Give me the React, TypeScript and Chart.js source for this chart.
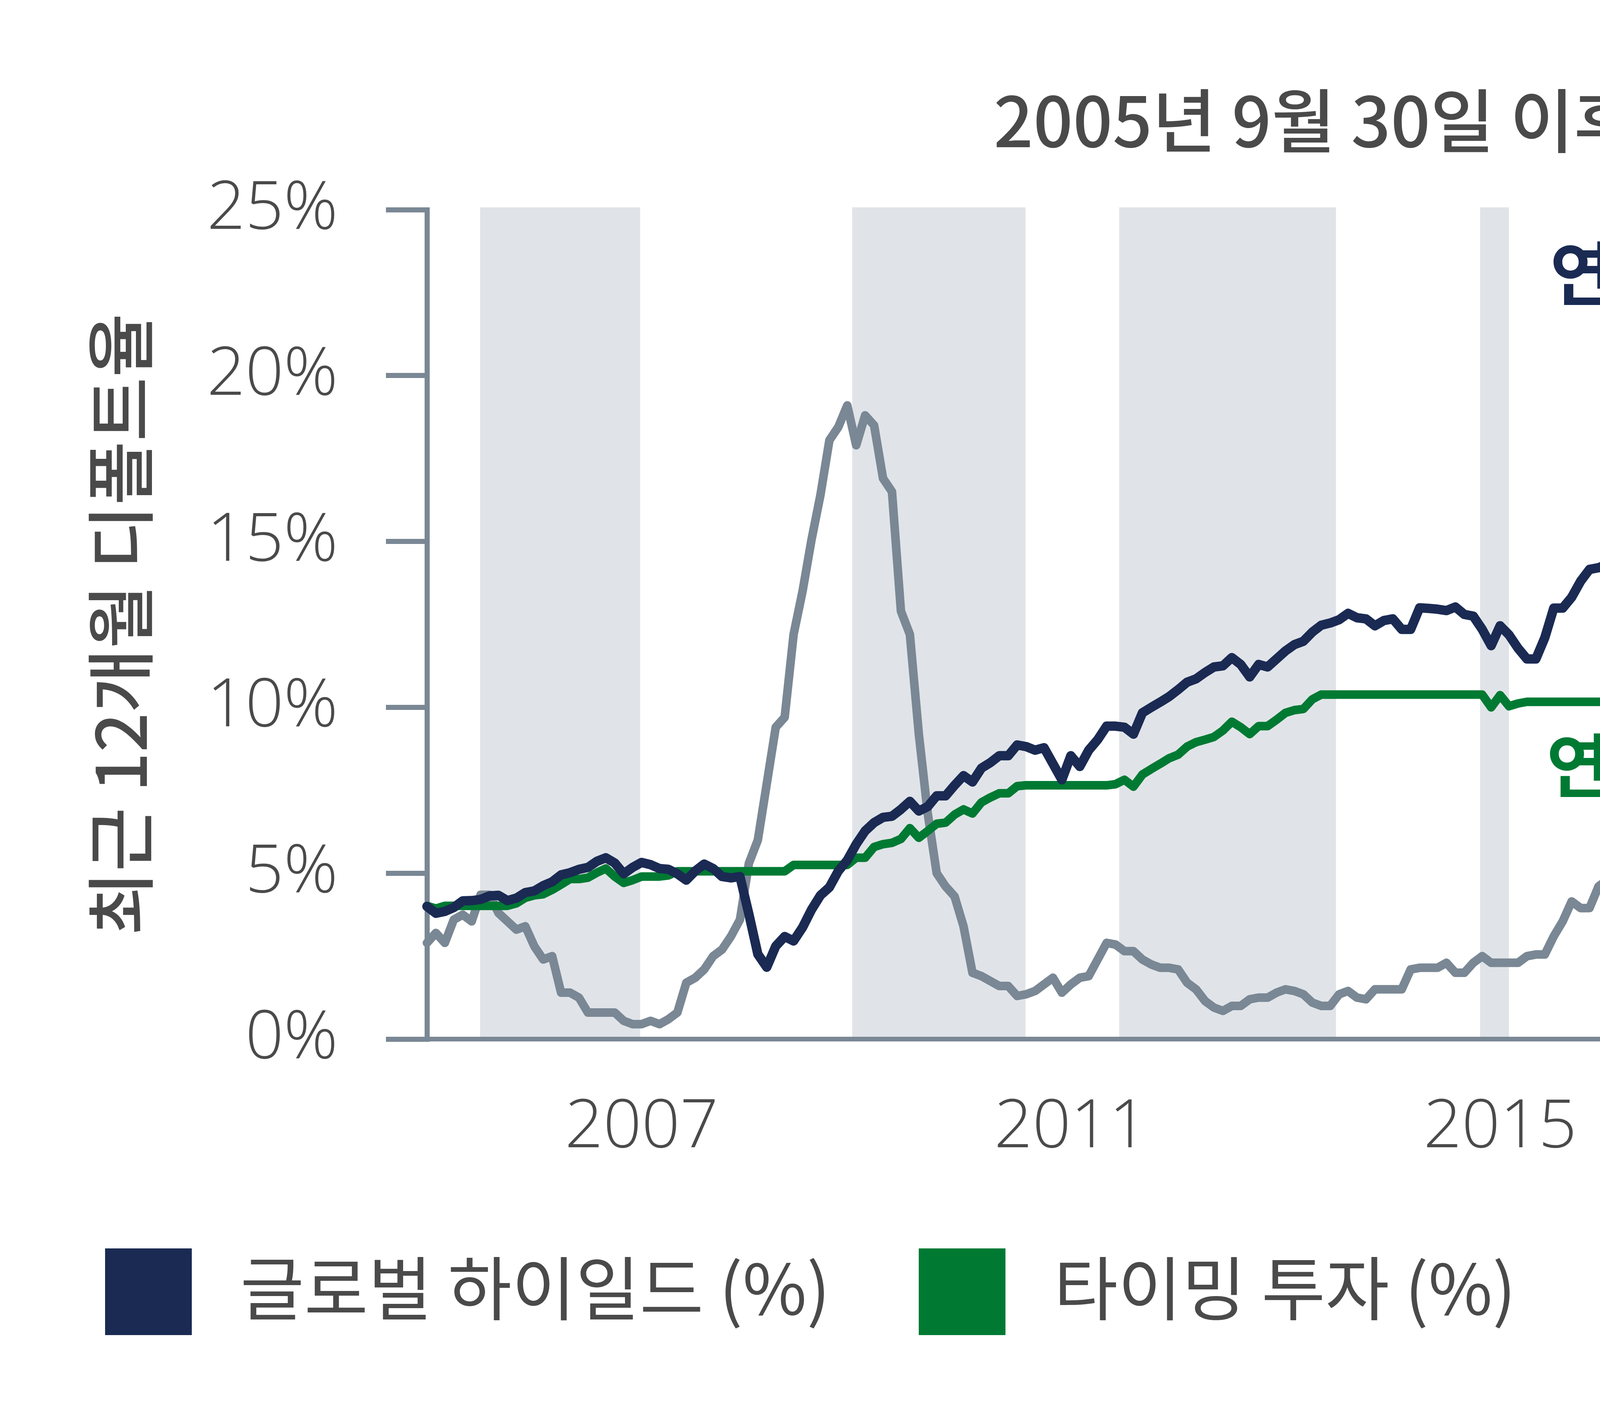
import React, { useEffect, useRef } from 'react';
import { Chart, registerables } from 'chart.js';

Chart.register(...registerables);

const W = 7472;
const H = 3639;

const FONT = "'Noto Sans CJK KR', 'Noto Sans', sans-serif";
const TICK_FONT = "'Open Sans', 'Noto Sans CJK KR', sans-serif";
const NAVY = '#1a2a53';
const GREEN = '#007a33';
const GRAY = '#7a8794';
const AXIS = '#7a8794';
const BAND = '#e0e4e8';
const TEXT = '#4a4a4a';

const chartTitle = '2005년 9월 30일 이후 총 수익률';
const leftAxisTitle = '최근 12개월 디폴트율';
const rightAxisTitle = '누적 수익률';

// monthly categories, Sep 2005 .. Jul 2024
const months: string[] = Array.from({ length: 227 }, (_, i) => {
  const t = 8 + i;
  return `${2005 + Math.floor(t / 12)}-${String((t % 12) + 1).padStart(2, '0')}`;
});
const xTickIndices = [24, 72, 120, 168, 216];
const xTickLabels = ['2007', '2011', '2015', '2019', '2023'];

const seriesLabels = ['글로벌 하이일드 (%)', '타이밍 투자 (%)', '최근 12개월 하이일드 디폴트율 (%)'];

// cumulative total return, global high yield (%)
const globalHighYield = [
  -2, -4.5, -3.8, -2.4, 0, 0.1, 0.5, 1.8, 2, 0.1,
  1, 3, 3.6, 5.5, 6.9, 9.4, 10.2, 11.4, 12.1, 14.3,
  15.6, 13.7, 9.8, 12.1, 13.9, 13.1, 11.7, 11.4, 9.8, 7.5,
  10.8, 13.3, 11.7, 8.8, 8.3, 8.8, -4.8, -19.3, -24, -16.4,
  -12.9, -14.5, -9.6, -3.2, 2, 4.9, 10.8, 14.7, 20.5, 25.3,
  28.3, 30.2, 30.6, 33.1, 36, 32.5, 34.1, 38, 38, 41.8,
  45.3, 43, 48, 50, 52.5, 52.5, 56.4, 55.8, 54.5, 55.4,
  49.6, 43.8, 52.5, 48.6, 54.5, 58.3, 63.2, 63.2, 62.8, 60.3,
  68, 70, 71.9, 73.9, 76.4, 79.1, 80.3, 82.6, 84.6, 85,
  88, 85.5, 81, 85.5, 84.6, 87.5, 90.4, 92.7, 93.9, 97.2,
  99.7, 100.5, 101.7, 104, 102.4, 102, 99.5, 101.4, 102, 98.2,
  98.2, 106, 105.8, 105.5, 105, 106.3, 103.6, 103, 98.2, 92.3, 99.5,
  96.2, 91.4, 87.5, 87.5, 95.2, 105.9, 105.9, 109.8, 115.6, 119.9,
  120.5, 121.8, 119.5, 123.4, 125.7, 128.8, 129.6, 131.6, 134.1, 135,
  137, 138.3, 139.9, 139.9, 139.9, 140.3, 140.9, 138, 138, 139.9,
  139.9, 142.8, 144.8, 146.7, 146.7, 139.9, 136, 141.8, 145.7, 149.2,
  154.5, 152.5, 155.4, 159.9, 160.7, 161.8, 162.6, 163.8, 166.5, 169,
  166.5, 132, 138, 145.7, 154.5, 156.8, 170, 166, 166, 173.9,
  182.6, 185, 185.9, 187.9, 189, 192.3, 194.9, 195.2, 197.6, 197.6,
  196.2, 192.3, 198.7, 190.4, 186.9, 181.7, 177.2, 175.8, 156.4, 172,
  162, 160, 165.1, 167.7, 167.1, 175.4, 174.3, 176.8, 177.8, 179.3,
  183.6, 186.5, 186.1, 180.7, 187.9, 202.6, 203, 204.4, 207.9, 207.3,
  206.5, 210.4, 213.7, 220.1, 222.8, 228.6,
];

// cumulative total return, timing strategy (%)
const timingStrategy = [
  -1.8, -2.8, -1.8, -1.8, -1.8, -1.8, -1.8, -1.8, -1.8, -1.8,
  -0.9, 1.1, 2, 2.4, 4, 5.9, 7.9, 7.9, 8.4, 10.2,
  11.7, 8.8, 6.5, 7.5, 8.8, 8.8, 8.8, 9.2, 10.7, 10.7,
  10.7, 10.7, 10.7, 10.7, 10.7, 10.7, 10.7, 10.7, 10.7, 10.7,
  10.7, 13, 13, 13, 13, 13, 13, 13, 15.6, 15.6,
  19.5, 20.5, 21, 22.4, 26.3, 22.8, 25.3, 27.9, 28.3, 31.2,
  33.1, 31.6, 35.6, 37.4, 38.9, 38.9, 41.5, 41.8, 41.8, 41.8,
  41.8, 41.8, 41.8, 41.8, 41.8, 41.8, 41.8, 42.2, 43.8, 41.3,
  45.7, 47.7, 49.6, 51.6, 52.9, 55.8, 57.4, 58.3, 59.3, 61.6,
  64.8, 62.8, 60.3, 63.2, 63.2, 65.5, 68, 69, 69.4, 72.9,
  74.6, 74.6, 74.6, 74.6, 74.6, 74.6, 74.6, 74.6, 74.6, 74.6,
  74.6, 74.6, 74.6, 74.6, 74.6, 74.6, 74.6, 74.6, 74.6, 70, 74.4,
  70.4, 71.4, 72, 72, 72, 72, 72, 72, 72, 72,
  72, 72, 74.4, 76.8, 78.7, 80.3, 80.7, 82.6, 84.2, 85,
  86.1, 87.5, 88.4, 90.4, 90.4, 90.4, 90.4, 90.4, 90.4, 90.4,
  90.4, 91.9, 94.3, 95.2, 95.5, 89.4, 86.5, 91.4, 95.2, 98.2,
  100.1, 102, 102, 102, 102, 102, 103.3, 103.3, 103.3, 103.3,
  103.3, 105.4, 105.9, 105.9, 105.9, 105.9, 105.9, 105.9, 105.9, 105.9,
  108.4, 109.8, 110.8, 110.8, 112.1, 113.3, 115.6, 117, 119.1, 119.1,
  116.6, 114.7, 114.7, 114.7, 114.7, 114.7, 114.7, 114.7, 117.2, 117.2,
  117.2, 117.2, 117.2, 118.7, 117.6, 123, 123.4, 124.9, 125.9, 125.3,
  128.3, 132.1, 132.1, 128.8, 133.1, 140.9, 145.7, 146.7, 148.2, 148.6,
  149.6, 152.1, 153.8, 158.7, 161.3, 166.7,
];

// trailing 12-month high yield default rate (%)
const defaultRate = [
  2.9, 3.2, 2.9, 3.6, 3.75, 3.55, 4.35, 4.35, 3.8, 3.55,
  3.3, 3.4, 2.8, 2.4, 2.5, 1.4, 1.4, 1.25, 0.8, 0.8,
  0.8, 0.8, 0.55, 0.45, 0.45, 0.55, 0.45, 0.6, 0.8, 1.7,
  1.85, 2.1, 2.5, 2.7, 3.1, 3.6, 5.3, 6.0, 7.7, 9.4,
  9.7, 12.2, 13.5, 15.05, 16.4, 18.05, 18.45, 19.1, 17.9, 18.8,
  18.5, 16.9, 16.5, 12.9, 12.2, 9.2, 6.8, 5.0, 4.6, 4.3,
  3.4, 2.0, 1.9, 1.75, 1.6, 1.6, 1.3, 1.35, 1.45, 1.65,
  1.85, 1.4, 1.65, 1.85, 1.9, 2.4, 2.9, 2.85, 2.65, 2.65,
  2.4, 2.25, 2.15, 2.15, 2.1, 1.7, 1.5, 1.15, 0.95, 0.85,
  1.0, 1.0, 1.2, 1.25, 1.25, 1.4, 1.5, 1.45, 1.35, 1.1,
  1.0, 1.0, 1.35, 1.45, 1.25, 1.2, 1.5, 1.5, 1.5, 1.5,
  2.1, 2.15, 2.15, 2.15, 2.3, 2.0, 2.0, 2.3, 2.5, 2.3, 2.3,
  2.3, 2.3, 2.5, 2.55, 2.55, 3.1, 3.55, 4.15, 3.95, 3.95,
  4.6, 4.8, 4.85, 4.85, 4.4, 4.25, 3.8, 3.15, 2.5, 2.5,
  2.55, 2.25, 1.65, 1.5, 2.0, 2.2, 2.15, 2.3, 2.9, 3.05,
  3.0, 2.8, 2.7, 2.6, 2.7, 2.3, 1.85, 1.5, 1.5, 0.95,
  0.95, 1.0, 1.45, 1.65, 1.85, 2.1, 2.25, 2.4, 2.55, 2.5,
  2.45, 2.9, 3.6, 4.65, 4.8, 5.0, 5.3, 5.5, 5.6, 5.8,
  5.65, 5.4, 5.25, 5.1, 4.35, 3.05, 2.55, 1.85, 1.2, 1.05,
  0.8, 0.6, 1.65, 1.65, 2.4, 2.9, 3.15, 3.2, 3.2, 3.55,
  4.0, 4.0, 4.25, 4.4, 3.6, 3.65, 3.35, 2.7, 2.5, 2.7,
  2.85, 2.7, 2.5, 2.85, 2.65, 2.5, 2.5, 2.5, 2.5, 2.5,
  2.65, 2.35, 2.1, 2.0, 1.85, 1.65,
];

// shaded periods (month index on the category axis)
const bandStart = [5.94, 47.55, 77.41, 117.76, 132.95, 149.63, 180.19, 203.82];
const bandEnd = [23.84, 66.93, 101.65, 120.99, 143.91, 160.63, 192.59, 226];

// annotations placed on (month index, right-axis value)
const annotationTexts = ['연간 총 수익률: 6.49%', '연간 총 수익률: 5.33%'];
const annotationX = [125.57, 125.18];
const annotationY = [226.9, 49.0];
const annotationColors = [NAVY, GREEN];

const bandsPlugin = {
  id: 'bands',
  beforeDraw(chart: any) {
    const { ctx, chartArea, scales } = chart;
    const x = scales.x;
    ctx.save();
    ctx.fillStyle = BAND;
    bandStart.forEach((s, i) => {
      const x0 = x.getPixelForValue(s);
      const x1 = x.getPixelForValue(bandEnd[i]);
      ctx.fillRect(x0, chartArea.top - 6, x1 - x0, chartArea.bottom - chartArea.top + 6);
    });
    ctx.restore();
  },
};

const annotationPlugin = {
  id: 'annotations',
  afterDatasetsDraw(chart: any) {
    const { ctx, scales } = chart;
    ctx.save();
    ctx.font = `700 178px ${FONT}`;
    ctx.textAlign = 'left';
    ctx.textBaseline = 'middle';
    annotationTexts.forEach((t, i) => {
      ctx.fillStyle = annotationColors[i];
      ctx.fillText(t, scales.x.getPixelForValue(annotationX[i]), scales.y1.getPixelForValue(annotationY[i]));
    });
    ctx.restore();
  },
};

export default function App() {
  const ref = useRef<HTMLCanvasElement>(null);

  useEffect(() => {
    document.body.style.margin = '0';
    const tickFont = { family: TICK_FONT, size: 172, weight: 300 as any };
    const titleFont = { family: FONT, size: 178, weight: 500 as any };
    const chart = new Chart(ref.current as HTMLCanvasElement, {
      type: 'line',
      data: {
        labels: months,
        datasets: [
          {
            label: seriesLabels[0],
            data: globalHighYield,
            yAxisID: 'y1',
            borderColor: NAVY,
            backgroundColor: NAVY,
            borderWidth: 24,
            pointRadius: 0,
            tension: 0,
            borderJoinStyle: 'round',
            borderCapStyle: 'round',
          },
          {
            label: seriesLabels[1],
            data: timingStrategy,
            yAxisID: 'y1',
            borderColor: GREEN,
            backgroundColor: GREEN,
            borderWidth: 22,
            pointRadius: 0,
            tension: 0,
            borderJoinStyle: 'round',
            borderCapStyle: 'round',
          },
          {
            label: seriesLabels[2],
            data: defaultRate,
            yAxisID: 'y',
            borderColor: GRAY,
            backgroundColor: GRAY,
            borderWidth: 22,
            pointRadius: 0,
            tension: 0,
            borderJoinStyle: 'round',
            borderCapStyle: 'round',
          },
        ],
      },
      options: {
        animation: false,
        responsive: false,
        devicePixelRatio: 1,
        events: [],
        layout: { padding: { top: 537, bottom: 578, left: 0, right: 0 } },
        plugins: {
          legend: { display: false },
          title: { display: false },
          tooltip: { enabled: false },
        },
        scales: {
          x: {
            type: 'category',
            offset: false,
            grid: { display: false, drawTicks: false },
            border: { display: true, color: AXIS, width: 12 },
            ticks: {
              autoSkip: false,
              maxRotation: 0,
              minRotation: 0,
              padding: 125,
              color: TEXT,
              font: tickFont,
              callback: (v: any) => xTickLabels[xTickIndices.indexOf(Number(v))] ?? '',
            },
            afterBuildTicks: (s: any) => {
              s.ticks = s.ticks.filter((t: any) => xTickIndices.includes(t.value));
            },
            afterFit: (s: any) => {
              s.height = 400;
            },
          },
          y: {
            position: 'left',
            min: 0,
            max: 25,
            grid: { drawOnChartArea: false, drawTicks: true, tickLength: 105, color: AXIS, lineWidth: 13, tickWidth: 13 },
            border: { display: true, color: AXIS, width: 13 },
            ticks: { stepSize: 5, padding: 123, color: TEXT, font: tickFont, callback: (v: any) => `${v}%` },
            title: { display: true, text: leftAxisTitle, color: TEXT, font: titleFont, padding: { top: 202, bottom: 0 } },
            afterFit: (s: any) => {
              s.width = 1093;
            },
          },
          y1: {
            position: 'right',
            min: -50,
            max: 250,
            grid: { drawOnChartArea: false, drawTicks: true, tickLength: 109, color: AXIS, lineWidth: 13, tickWidth: 13 },
            border: { display: true, color: AXIS, width: 13 },
            ticks: { stepSize: 50, padding: 124, color: TEXT, font: tickFont, callback: (v: any) => `${v}%` },
            title: { display: true, text: rightAxisTitle, color: TEXT, font: titleFont, padding: { top: 199, bottom: 0 } },
            afterFit: (s: any) => {
              s.width = 1205;
            },
          },
        },
      },
      plugins: [bandsPlugin, annotationPlugin],
    } as any);
    return () => chart.destroy();
  }, []);

  const legendColors = [NAVY, GREEN, GRAY];
  const legendLefts = [269, 2352, 4117];

  return (
    <div
      style={{
        position: 'fixed',
        left: 0,
        top: 0,
        width: W,
        height: H,
        background: '#ffffff',
        overflow: 'hidden',
        fontFamily: FONT,
      }}
    >
      <canvas ref={ref} width={W} height={H} style={{ position: 'absolute', left: 0, top: 0, width: W, height: H }} />
      <div
        style={{
          position: 'absolute',
          left: 0,
          width: W,
          top: 211,
          textAlign: 'center',
          fontSize: 178,
          lineHeight: 1,
          fontWeight: 500,
          color: TEXT,
          whiteSpace: 'nowrap',
        }}
      >
        {chartTitle}
      </div>
      {seriesLabels.map((label, i) => (
        <div
          key={label}
          style={{
            position: 'absolute',
            left: legendLefts[i],
            top: 3197,
            height: 222,
            display: 'flex',
            alignItems: 'center',
            whiteSpace: 'nowrap',
          }}
        >
          <div style={{ width: 222, height: 222, background: legendColors[i], flex: 'none' }} />
          <div
            style={{
              marginLeft: 124,
              fontSize: 178,
              lineHeight: 1,
              color: TEXT,
              position: 'relative',
              top: -18,
            }}
          >
            {label}
          </div>
        </div>
      ))}
    </div>
  );
}
